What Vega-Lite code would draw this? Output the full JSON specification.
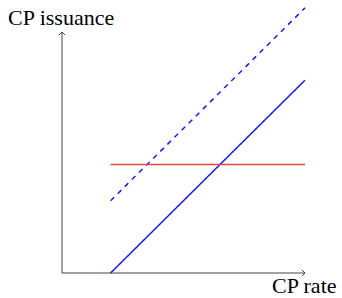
{
  "$schema": "https://vega.github.io/schema/vega-lite/v6.json",
  "width": 243,
  "height": 241,
  "autosize": {"type": "none"},
  "padding": {"left": 62, "top": 32, "right": 37, "bottom": 25},
  "background": "white",
  "config": {"view": {"stroke": null}},
  "datasets": {
    "axes": [
      {"axis": "x", "x": 0, "y": 0, "x2": 10, "y2": 0},
      {"axis": "y", "x": 0, "y": 0, "x2": 0, "y2": 10}
    ],
    "curves": [
      {"series": "supply", "x": 2, "y": 0},
      {"series": "supply", "x": 10, "y": 8},
      {"series": "shifted supply", "x": 2, "y": 3},
      {"series": "shifted supply", "x": 10, "y": 11},
      {"series": "demand", "x": 2, "y": 4.5},
      {"series": "demand", "x": 10, "y": 4.5}
    ],
    "labels": [
      {"label": "CP issuance", "x": -2.22, "y": 10.29},
      {"label": "CP rate", "x": 8.64, "y": -0.83}
    ]
  },
  "layer": [
    {
      "data": {"name": "axes"},
      "mark": {"type": "rule", "color": "#444444", "strokeWidth": 1},
      "encoding": {
        "x": {"field": "x", "type": "quantitative", "scale": {"domain": [0, 10], "nice": false, "zero": false}, "axis": null},
        "y": {"field": "y", "type": "quantitative", "scale": {"domain": [0, 10], "nice": false, "zero": false}, "axis": null},
        "x2": {"field": "x2"},
        "y2": {"field": "y2"}
      }
    },
    {
      "data": {"name": "axes"},
      "transform": [{"filter": "datum.axis === 'y'"}],
      "mark": {"type": "point", "shape": "M-1,1L0,0L1,1", "filled": false, "stroke": "#444444", "strokeWidth": 1, "size": 36, "opacity": 1},
      "encoding": {
        "x": {"field": "x2", "type": "quantitative", "axis": null},
        "y": {"field": "y2", "type": "quantitative", "axis": null}
      }
    },
    {
      "data": {"name": "axes"},
      "transform": [{"filter": "datum.axis === 'x'"}],
      "mark": {"type": "point", "shape": "M-1,1L0,0L1,1", "angle": 90, "filled": false, "stroke": "#444444", "strokeWidth": 1, "size": 36, "opacity": 1},
      "encoding": {
        "x": {"field": "x2", "type": "quantitative", "axis": null},
        "y": {"field": "y2", "type": "quantitative", "axis": null}
      }
    },
    {
      "data": {"name": "curves"},
      "mark": {"type": "line", "strokeWidth": 1.5},
      "encoding": {
        "x": {"field": "x", "type": "quantitative", "axis": null},
        "y": {"field": "y", "type": "quantitative", "axis": null},
        "color": {
          "field": "series", "type": "nominal",
          "scale": {"domain": ["supply", "shifted supply", "demand"], "range": ["#1a1aee", "#1a1aee", "#e04848"]},
          "legend": null
        },
        "strokeDash": {
          "field": "series", "type": "nominal",
          "scale": {"domain": ["supply", "shifted supply", "demand"], "range": [[1, 0], [5, 5], [1, 0]]},
          "legend": null
        }
      }
    },
    {
      "data": {"name": "labels"},
      "mark": {"type": "text", "align": "left", "baseline": "alphabetic", "font": "Liberation Serif", "fontSize": 22, "color": "#000000"},
      "encoding": {
        "x": {"field": "x", "type": "quantitative", "axis": null},
        "y": {"field": "y", "type": "quantitative", "axis": null},
        "text": {"field": "label"}
      }
    }
  ]
}
